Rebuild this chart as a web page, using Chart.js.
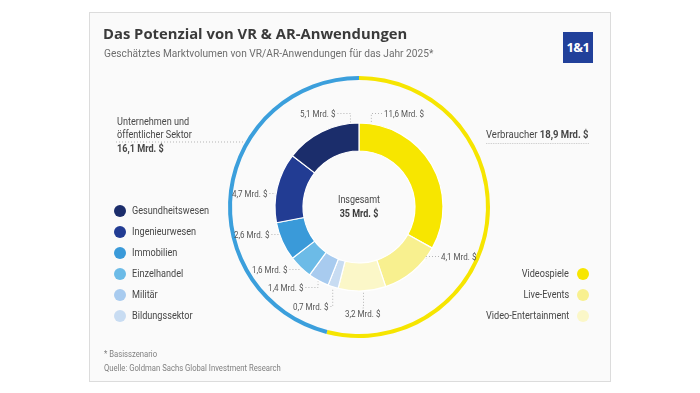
<!DOCTYPE html>
<html>
<head>
<meta charset="utf-8">
<script src="https://cdn.jsdelivr.net/npm/chart.js@4.4.1/dist/chart.umd.min.js"></script>
<style>
html, body { margin: 0; padding: 0; background: #fff; }
body { width: 700px; height: 393px; position: relative; overflow: hidden;
       font-family: "Roboto", sans-serif; color: #474747; }
#card { position: absolute; left: 89px; top: 12px; width: 520px; height: 368px;
        background: #fafafa; border: 1px solid #dcdcdc; }
#chart { position: absolute; left: 0; top: 0; }
.t { position: absolute; white-space: nowrap; line-height: 1; }
.dot { position: absolute; border-radius: 50%; width: 12px; height: 12px; }
#logo { position: absolute; left: 563px; top: 32px; width: 30px; height: 31px; background: #21409a;
        color: #fff; font: bold 13px "Open Sans", sans-serif; text-align: center; line-height: 31px; letter-spacing: -0.5px; }
</style>
</head>
<body>
<div id="card"></div>
<div id="logo">1&amp;1</div>
<canvas id="chart" width="700" height="393"></canvas>
<script>
// Segmente im Uhrzeigersinn ab 12 Uhr
const innerLabels = ['Videospiele', 'Live-Events', 'Video-Entertainment', 'Bildungssektor', 'Militär',
                     'Einzelhandel', 'Immobilien', 'Ingenieurwesen', 'Gesundheitswesen'];
const innerValues = [11.6, 4.1, 3.2, 0.7, 1.4, 1.6, 2.6, 4.7, 5.1];
const innerColors = ['#f7e600', '#f8f08f', '#fbf7c8', '#c8dcf2', '#a8cbef',
                     '#6cbbe7', '#3a9ad9', '#223c93', '#1b2d6b'];

const sectorLabels = ['Verbraucher', 'Unternehmen und öffentlicher Sektor'];
const sectorValues = [18.9, 16.1];
const sectorColors = ['#f6e500', '#3b9fdc'];
const totalValue = 35;

const leftLegend = [8, 7, 6, 5, 4, 3];
const rightLegend = [0, 1, 2];

// Textposition der Wertbeschriftung: x links, Grundlinie, Seite der Hinweislinie, Anteil im Segment
const labelPos = [
    [384, 117, 'l', 0.07],
    [441, 260, 'l', 0.2],
    [345, 317, 't', 0.47],
    [293, 310, 'r', 0.5],
    [268, 291, 'r', 0.5],
    [252, 273, 'r', 0.5],
    [234, 238, 'r', 0.7],
    [232, 197, 'r', 0.42],
    [300, 117, 'r', 0.89]
];

const narrow = 0.83; // Roboto schmaler machen, Vorlage nutzt eine Condensed-Schrift

function fmt(v) {
    return v.toFixed(1).replace('.', ',') + ' Mrd. $';
}

function addText(html, x, base, size, opts) {
    opts = opts || {};
    const d = document.createElement('div');
    d.className = 't';
    d.innerHTML = html;
    d.style.fontSize = size + 'px';
    if (opts.open) d.style.fontFamily = '"Open Sans", sans-serif';
    if (opts.bold) d.style.fontWeight = 'bold';
    if (opts.color) d.style.color = opts.color;
    const sx = opts.sx || (opts.open ? 1 : narrow);
    const k = opts.open ? 0.888 : 0.86;
    d.style.top = (base - k * size) + 'px';
    if (opts.align === 'right') {
        d.style.right = (700 - x) + 'px';
        d.style.transformOrigin = 'right center';
        d.style.transform = 'scaleX(' + sx + ')';
    } else if (opts.align === 'center') {
        d.style.left = x + 'px';
        d.style.transformOrigin = 'left center';
        d.style.transform = 'scaleX(' + sx + ') translateX(-50%)';
    } else {
        d.style.left = x + 'px';
        d.style.transformOrigin = 'left center';
        d.style.transform = 'scaleX(' + sx + ')';
    }
    document.body.appendChild(d);
    return d;
}

function addDot(x, y, color) {
    const d = document.createElement('div');
    d.className = 'dot';
    d.style.left = (x - 6) + 'px';
    d.style.top = (y - 6) + 'px';
    d.style.background = color;
    document.body.appendChild(d);
}

addText('Das Potenzial von VR &amp; AR-Anwendungen', 103, 39, 14.8, {open: true, bold: true, color: '#3a3a3a'});
addText('Geschätztes Marktvolumen von VR/AR-Anwendungen für das Jahr 2025*', 104, 57.5, 11.5, {color: '#6e6e6e', sx: 0.885});

addText('Unternehmen und', 117, 125, 11);
addText('öffentlicher Sektor', 117, 138, 11);
addText(fmt(sectorValues[1]), 117, 152, 11, {bold: true});
const verb = addText(sectorLabels[0] + ' <b>' + fmt(sectorValues[0]) + '</b>', 486, 138, 11, {sx: 0.865});
verb.style.paddingBottom = '3px';
verb.style.borderBottom = '1px dotted #c8c8c8';

addText('Insgesamt', 359, 204.5, 10.8, {align: 'center'});
addText(totalValue + ' Mrd. $', 359, 218, 10.8, {align: 'center', bold: true, color: '#3a3a3a'});

leftLegend.forEach((idx, i) => {
    const cy = 210.7 + i * 21.05;
    addDot(120, cy, innerColors[idx]);
    addText(innerLabels[idx], 131.5, cy + 3.9, 11);
});
rightLegend.forEach((idx, i) => {
    const cy = 274 + i * 21;
    addDot(583, cy, innerColors[idx]);
    addText(innerLabels[idx], 569, cy + 3.9, 11, {align: 'right'});
});

addText('* Basisszenario', 104, 358, 9, {color: '#808080', sx: 0.855});
addText('Quelle: Goldman Sachs Global Investment Research', 104, 372, 9, {color: '#808080', sx: 0.855});

const valueEls = innerValues.map((v, i) => addText(fmt(v), labelPos[i][0], labelPos[i][1], 9.8, {color: '#555', sx: 0.82}));

const leaderPlugin = {
    id: 'leaders',
    afterDatasetsDraw(chart) {
        const ctx = chart.ctx;
        ctx.save();
        ctx.strokeStyle = '#b5b5b5';
        ctx.lineWidth = 1;
        ctx.setLineDash([1, 2]);
        chart.getDatasetMeta(2).data.forEach((arc, i) => {
            const p = arc.getProps(['x', 'y', 'startAngle', 'endAngle', 'outerRadius'], true);
            const a = p.startAngle + labelPos[i][3] * (p.endAngle - p.startAngle);
            const tx = p.x + Math.cos(a) * (p.outerRadius + 1);
            const ty = p.y + Math.sin(a) * (p.outerRadius + 1);
            const w = valueEls[i].getBoundingClientRect().width;
            const lx = labelPos[i][0], base = labelPos[i][1];
            let ax, ay;
            if (labelPos[i][2] === 'r') { ax = lx + w + 2; ay = base - 3.5; }
            else if (labelPos[i][2] === 'l') { ax = lx - 2; ay = base - 3.5; }
            else { ax = lx + w / 2; ay = base - 9; }
            ctx.beginPath();
            ctx.moveTo(ax, ay);
            ctx.lineTo(tx, ay);
            ctx.lineTo(tx, ty);
            ctx.stroke();
        });
        // Linie unter dem linken Sektortext bis zum Ring
        const ring = chart.getDatasetMeta(0).data[1].getProps(['x', 'y', 'outerRadius'], true);
        const ly = 142;
        const rx = ring.x - Math.sqrt(ring.outerRadius * ring.outerRadius - (ly - ring.y) * (ly - ring.y));
        ctx.beginPath();
        ctx.moveTo(116, ly);
        ctx.lineTo(rx, ly);
        ctx.stroke();
        ctx.restore();
    }
};

new Chart(document.getElementById('chart'), {
    type: 'doughnut',
    data: {
        labels: innerLabels,
        datasets: [
            {
                data: sectorValues,
                backgroundColor: sectorColors,
                borderWidth: 0,
                weight: 4
            },
            {
                data: [1],
                backgroundColor: 'rgba(0,0,0,0)',
                borderWidth: 0,
                weight: 43
            },
            {
                data: innerValues,
                backgroundColor: innerColors,
                borderColor: '#ffffff',
                borderWidth: 1.2,
                weight: 28
            }
        ]
    },
    options: {
        responsive: false,
        animation: false,
        radius: 131,
        cutout: '42.75%',
        layout: { padding: { left: 228, right: 210, top: 76, bottom: 55 } },
        plugins: {
            legend: { display: false },
            tooltip: { enabled: false }
        },
        events: []
    },
    plugins: [leaderPlugin]
});
</script>
</body>
</html>
